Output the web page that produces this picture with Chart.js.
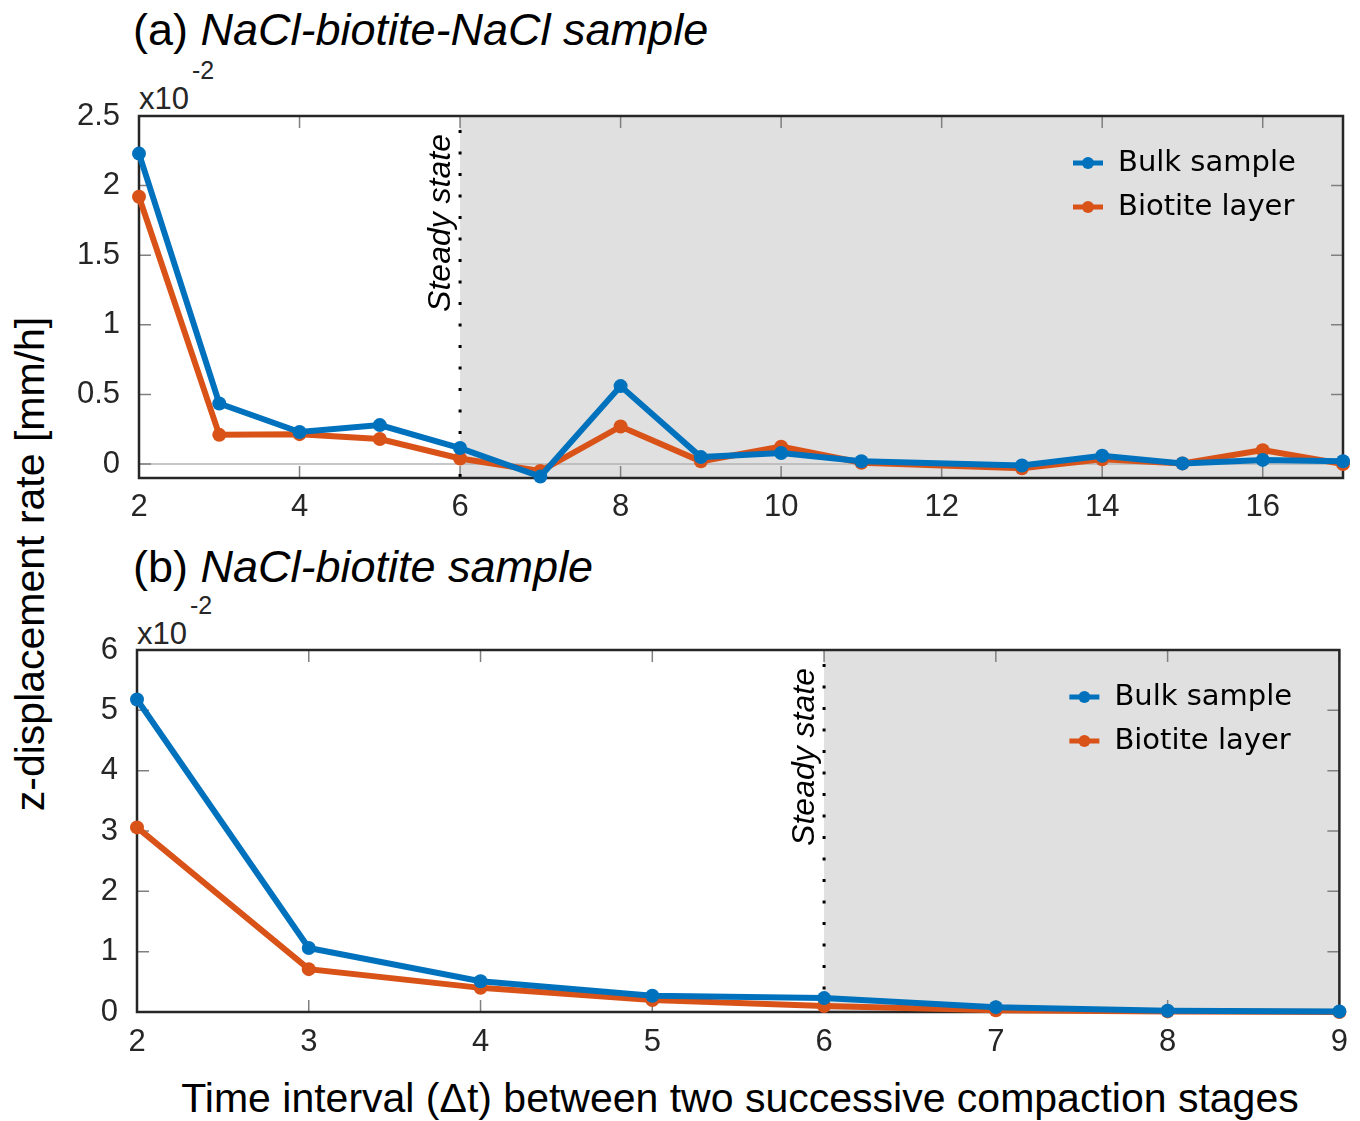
<!DOCTYPE html>
<html>
<head>
<meta charset="utf-8">
<script src="https://cdn.jsdelivr.net/npm/chart.js@4.4.1/dist/chart.umd.min.js"></script>
<style>
    body { margin: 0; background: #fff; width: 1360px; height: 1121px; position: relative; overflow: hidden; font-family: 'Liberation Sans', Arial, sans-serif; color: #000; }
    .panel { position: absolute; left: 0; width: 1360px; }
    #panelA { top: 0; height: 560px; }
    #panelB { top: 560px; height: 561px; }
    .title { position: absolute; font-size: 45px; line-height: 1; white-space: nowrap; }
    .mult { position: absolute; font-size: 31px; line-height: 1; color: #262626; }
    .exp { position: absolute; font-size: 25px; line-height: 1; color: #262626; }
    #yLabel { position: absolute; left: 30px; top: 564px; font-size: 41px; line-height: 1; white-space: nowrap; transform: translate(-50%, -50%) rotate(-90deg); }
    #xLabel { position: absolute; left: 740px; top: 1098px; font-size: 41px; line-height: 1; white-space: nowrap; transform: translate(-50%, -50%); }
</style>
</head>
<body>
<div class="title" style="left:133px; top:7px;">(a) <i>NaCl-biotite-NaCl sample</i></div>
<div class="title" style="left:133px; top:544px;">(b) <i>NaCl-biotite sample</i></div>
<div class="mult" style="left:139px; top:83px;">x10</div>
<div class="exp" style="left:192px; top:58px;">-2</div>
<div class="mult" style="left:137px; top:618px;">x10</div>
<div class="exp" style="left:190px; top:593px;">-2</div>
<div id="yLabel">z-displacement rate [mm/h]</div>
<div id="xLabel">Time interval (Δt) between two successive compaction stages</div>
<div class="panel" id="panelA"><canvas id="chartA"></canvas></div>
<div class="panel" id="panelB"><canvas id="chartB"></canvas></div>
<script>
    // values in units of 10^-2 mm/h
    const topIntervals = [2, 3, 4, 5, 6, 7, 8, 9, 10, 11, 13, 14, 15, 16, 17];
    const topBulk = [2.23, 0.435, 0.23, 0.28, 0.115, -0.09, 0.56, 0.05, 0.08, 0.02, -0.01, 0.06, 0.005, 0.03, 0.02];
    const topBiotite = [1.92, 0.21, 0.215, 0.18, 0.04, -0.05, 0.27, 0.02, 0.125, 0.01, -0.03, 0.035, 0.005, 0.10, 0.0];
    const topXTicks = [2, 4, 6, 8, 10, 12, 14, 16];
    const topYTicks = [0, 0.5, 1, 1.5, 2, 2.5];

    const bottomIntervals = [2, 3, 4, 5, 6, 7, 8, 9];
    const bottomBulk = [5.18, 1.06, 0.51, 0.27, 0.23, 0.08, 0.02, 0.01];
    const bottomBiotite = [3.06, 0.71, 0.40, 0.20, 0.10, 0.03, 0.01, 0.0];
    const bottomXTicks = [2, 3, 4, 5, 6, 7, 8, 9];
    const bottomYTicks = [0, 1, 2, 3, 4, 5, 6];

    const seriesLabels = ['Bulk sample', 'Biotite layer'];
    const BLUE = '#0072BD';
    const ORANGE = '#D95319';
    const TICK_FONT = { family: "'Liberation Sans', Arial, sans-serif", size: 31 };

    const panelDecor = {
        id: 'panelDecor',
        beforeDatasetsDraw(chart, args, opts) {
            const { ctx, chartArea: a, scales: { x, y } } = chart;
            const sx = x.getPixelForValue(opts.steadyAt);
            ctx.save();

            // steady-state shading
            ctx.fillStyle = '#e0e0e0';
            ctx.fillRect(sx, a.top, a.right - sx, a.bottom - a.top);

            // zero reference line
            if (opts.zeroLine) {
                const zy = y.getPixelForValue(0);
                ctx.strokeStyle = '#b4b4b4';
                ctx.lineWidth = 1.5;
                ctx.beginPath();
                ctx.moveTo(a.left, zy);
                ctx.lineTo(a.right, zy);
                ctx.stroke();
            }

            // inward tick marks on all four sides
            ctx.strokeStyle = '#808080';
            ctx.lineWidth = 1.5;
            ctx.beginPath();
            x.ticks.forEach(t => {
                const px = x.getPixelForValue(t.value);
                ctx.moveTo(px, a.bottom); ctx.lineTo(px, a.bottom - 12);
                ctx.moveTo(px, a.top); ctx.lineTo(px, a.top + 12);
            });
            y.ticks.forEach(t => {
                const py = y.getPixelForValue(t.value);
                ctx.moveTo(a.left, py); ctx.lineTo(a.left + 12, py);
                ctx.moveTo(a.right, py); ctx.lineTo(a.right - 12, py);
            });
            ctx.stroke();

            // dotted steady-state marker
            ctx.strokeStyle = '#000';
            ctx.lineWidth = 3;
            ctx.setLineDash([3, 18.5]);
            ctx.beginPath();
            ctx.moveTo(sx, a.top + 14);
            ctx.lineTo(sx, a.bottom);
            ctx.stroke();
            ctx.setLineDash([]);

            ctx.save();
            ctx.translate(sx - 10, a.top + 18);
            ctx.rotate(-Math.PI / 2);
            ctx.font = "italic 32px 'Liberation Sans', Arial, sans-serif";
            ctx.fillStyle = '#000';
            ctx.textAlign = 'right';
            ctx.textBaseline = 'alphabetic';
            ctx.fillText('Steady state', 0, 0);
            ctx.restore();

            // axes box
            ctx.strokeStyle = '#262626';
            ctx.lineWidth = 2.5;
            ctx.strokeRect(a.left, a.top, a.right - a.left, a.bottom - a.top);
            ctx.restore();
        },
        afterDatasetsDraw(chart) {
            const { ctx, chartArea: a } = chart;
            ctx.save();
            chart.data.datasets.forEach((ds, i) => {
                const ly = a.top + 47 + i * 44;
                ctx.strokeStyle = ds.borderColor;
                ctx.lineWidth = 5;
                ctx.beginPath();
                ctx.moveTo(a.right - 270, ly);
                ctx.lineTo(a.right - 240, ly);
                ctx.stroke();
                ctx.fillStyle = ds.borderColor;
                ctx.beginPath();
                ctx.arc(a.right - 255, ly, 6, 0, Math.PI * 2);
                ctx.fill();
                ctx.fillStyle = '#000';
                ctx.font = "29px 'DejaVu Sans', Verdana, sans-serif";
                ctx.textAlign = 'left';
                ctx.textBaseline = 'middle';
                ctx.fillText(ds.label, a.right - 225, ly);
            });
            ctx.restore();
        }
    };

    function makeDataset(label, xs, ys, color) {
        return {
            label: label,
            data: xs.map((x, i) => ({ x: x, y: ys[i] })),
            borderColor: color,
            backgroundColor: color,
            borderWidth: 6,
            pointRadius: 7,
            pointBorderWidth: 0,
            pointBackgroundColor: color,
            tension: 0,
            clip: false
        };
    }

    function makeChart(canvasId, cfg) {
        return new Chart(document.getElementById(canvasId), {
            type: 'line',
            data: {
                datasets: [
                    makeDataset(seriesLabels[0], cfg.xs, cfg.bulk, BLUE),
                    makeDataset(seriesLabels[1], cfg.xs, cfg.biotite, ORANGE)
                ]
            },
            options: {
                responsive: true,
                maintainAspectRatio: false,
                animation: false,
                events: [],
                layout: { padding: { top: cfg.padTop, right: cfg.padRight, left: 0, bottom: 0 } },
                plugins: {
                    legend: { display: false },
                    tooltip: { enabled: false },
                    panelDecor: { steadyAt: 6, zeroLine: cfg.zeroLine }
                },
                scales: {
                    x: {
                        type: 'linear',
                        min: cfg.xMin,
                        max: cfg.xMax,
                        grid: { display: false, drawTicks: false },
                        border: { display: false },
                        afterBuildTicks: s => { s.ticks = cfg.xTicks.map(v => ({ value: v })); },
                        afterFit: s => { s.height = cfg.xAxisHeight; },
                        ticks: { font: TICK_FONT, color: '#262626', padding: cfg.xPad, maxRotation: 0, autoSkip: false, callback: v => String(v) }
                    },
                    y: {
                        min: cfg.yMin,
                        max: cfg.yMax,
                        grid: { display: false, drawTicks: false },
                        border: { display: false },
                        afterBuildTicks: s => { s.ticks = cfg.yTicks.map(v => ({ value: v })); },
                        afterFit: s => { s.width = cfg.yAxisWidth; },
                        ticks: { font: TICK_FONT, color: '#262626', padding: 19, autoSkip: false, callback: v => String(v) }
                    }
                }
            },
            plugins: [panelDecor]
        });
    }

    makeChart('chartA', {
        xs: topIntervals, bulk: topBulk, biotite: topBiotite,
        xTicks: topXTicks, yTicks: topYTicks,
        xMin: 2, xMax: 17, yMin: -0.1, yMax: 2.5,
        padTop: 116, padRight: 17, yAxisWidth: 139, xAxisHeight: 82, xPad: 11,
        zeroLine: true
    });

    makeChart('chartB', {
        xs: bottomIntervals, bulk: bottomBulk, biotite: bottomBiotite,
        xTicks: bottomXTicks, yTicks: bottomYTicks,
        xMin: 2, xMax: 9, yMin: 0, yMax: 6,
        padTop: 90, padRight: 19, yAxisWidth: 137, xAxisHeight: 109, xPad: 12,
        zeroLine: false
    });
</script>
</body>
</html>
